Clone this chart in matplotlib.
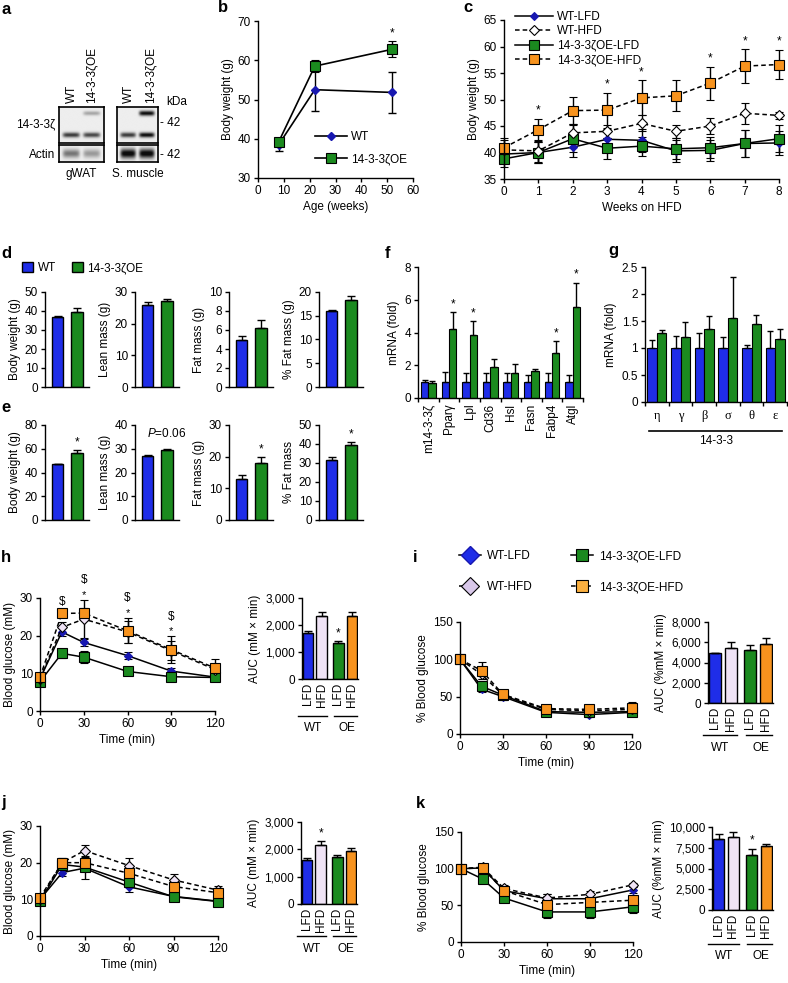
import numpy as np
import matplotlib
matplotlib.use('Agg')
import matplotlib.pyplot as plt
from matplotlib.patches import Patch
from matplotlib.lines import Line2D
import matplotlib.transforms as mtransforms

FS = 8.5
plt.rcParams['font.family'] = ['Liberation Sans', 'DejaVu Sans']
plt.rcParams['font.size'] = FS
plt.rcParams['mathtext.fontset'] = 'custom'
plt.rcParams['mathtext.it'] = 'Liberation Sans:italic'
plt.rcParams['mathtext.rm'] = 'Liberation Sans'
plt.rcParams['axes.linewidth'] = 1.0
plt.rcParams['xtick.major.width'] = 1.0
plt.rcParams['ytick.major.width'] = 1.0
plt.rcParams['xtick.major.size'] = 3
plt.rcParams['ytick.major.size'] = 3
plt.rcParams['xtick.major.pad'] = 2
plt.rcParams['ytick.major.pad'] = 2
plt.rcParams['axes.labelpad'] = 3

# ---------------- data ----------------
# panel a (western blot band intensities, lanes WT / 14-3-3zOE)
blot_lanes = ['WT', '14-3-3ζOE']
gwat_zeta_endo = [0.75, 0.7]
gwat_zeta_oe = [0.0, 0.3]
gwat_actin = [0.5, 0.35]
musc_zeta_endo = [0.75, 0.95]
musc_zeta_oe = [0.0, 0.95]
musc_actin = [1.0, 1.0]

# panel b
b_age = [8, 22, 52]
b_wt = [38.5, 52.5, 51.8]
b_wt_err = [1.7, 5.5, 5.3]
b_oe = [39.2, 58.5, 62.8]
b_oe_err = [1.0, 1.5, 2.0]
b_star_idx = [2]

# panel c
c_weeks = [0, 1, 2, 3, 4, 5, 6, 7, 8]
c_wt_lfd = [39.7, 40.0, 41.0, 42.5, 42.3, 40.3, 40.4, 41.7, 41.8]
c_wt_lfd_err = [1.5, 2.0, 1.8, 2.0, 2.2, 2.0, 2.0, 2.5, 2.2]
c_wt_hfd = [40.5, 40.3, 43.7, 44.0, 45.5, 44.0, 45.0, 47.4, 47.0]
c_wt_hfd_err = [1.8, 2.0, 1.6, 1.2, 1.5, 1.2, 1.5, 2.0, 0.7]
c_oe_lfd = [38.8, 40.0, 42.6, 40.8, 41.2, 40.7, 40.9, 41.7, 42.6]
c_oe_lfd_err = [1.5, 2.0, 2.5, 2.0, 1.8, 2.0, 2.0, 2.5, 2.5]
c_oe_hfd = [40.9, 44.3, 47.9, 48.0, 50.3, 50.7, 53.1, 56.3, 56.6]
c_oe_hfd_err = [1.8, 2.1, 2.6, 3.3, 3.3, 2.9, 3.1, 3.2, 2.8]
c_star_weeks = [1, 3, 4, 6, 7, 8]

# panel d / e (WT, 14-3-3zOE)
de_labels = ['Body weight (g)', 'Lean mass (g)', 'Fat mass (g)', '% Fat mass (g)']
e_labels = ['Body weight (g)', 'Lean mass (g)', 'Fat mass (g)', '% Fat mass']
d_vals = [[36.8, 39.7], [26.0, 27.0], [4.9, 6.2], [15.9, 18.4]]
d_errs = [[0.7, 1.8], [0.8, 0.8], [0.5, 0.8], [0.4, 0.8]]
d_ymax = [50, 30, 10, 20]
d_ystep = [10, 10, 2, 5]
e_vals = [[47.0, 56.5], [27.0, 29.3], [12.8, 18.0], [31.5, 39.3]]
e_errs = [[0.5, 2.5], [0.3, 0.8], [1.5, 1.8], [1.8, 1.8]]
e_ymax = [80, 40, 30, 50]
e_ystep = [20, 10, 10, 10]
e_star = [True, False, True, True]

# panel f
f_genes = ['m14-3-3ζ', 'Pparγ', 'Lpl', 'Cd36', 'Hsl', 'Fasn', 'Fabp4', 'Atgl']
f_wt = [1, 1, 1, 1, 1, 1, 1, 1]
f_wt_err = [0.1, 0.6, 0.55, 0.55, 0.55, 0.4, 0.55, 0.4]
f_oe = [0.9, 4.2, 3.85, 1.9, 1.55, 1.65, 2.75, 5.55]
f_oe_err = [0.15, 1.05, 0.85, 0.5, 0.5, 0.1, 0.75, 1.5]
f_star = [False, True, True, False, False, False, True, True]

# panel g
g_iso = ['η', 'γ', 'β', 'σ', 'θ', 'ε']
g_wt = [1, 1, 1, 1, 1, 1]
g_wt_err = [0.15, 0.23, 0.27, 0.2, 0.05, 0.32]
g_oe = [1.27, 1.21, 1.35, 1.56, 1.45, 1.17]
g_oe_err = [0.07, 0.28, 0.25, 0.75, 0.17, 0.18]

# panels h-k (time courses)
t_min = [0, 15, 30, 60, 90, 120]
h_wt_lfd = [8.5, 21.0, 18.2, 14.7, 10.6, 9.0]
h_wt_lfd_err = [0.8, 1.2, 1.0, 1.0, 0.7, 0.5]
h_wt_hfd = [8.6, 22.2, 24.4, 21.0, 16.0, 11.0]
h_wt_hfd_err = [0.8, 1.5, 5.0, 3.0, 2.5, 1.5]
h_oe_lfd = [7.8, 15.3, 14.3, 10.5, 9.1, 8.9]
h_oe_lfd_err = [0.8, 1.2, 1.5, 0.7, 0.5, 0.6]
h_oe_hfd = [9.0, 25.9, 26.0, 21.3, 16.3, 11.4]
h_oe_hfd_err = [0.8, 1.0, 1.3, 3.3, 3.5, 2.3]
h_star_t = [30, 60, 90]
h_dollar_t = [15, 30, 60, 90]

i_wt_lfd = [100, 60, 50, 29, 26, 29]
i_wt_lfd_err = [0, 4, 4, 3, 3, 3]
i_wt_hfd = [100, 80, 52, 33, 31, 33]
i_wt_hfd_err = [0, 6, 5, 3, 3, 4]
i_oe_lfd = [100, 64, 52, 30, 29, 30]
i_oe_lfd_err = [0, 5, 5, 3, 3, 3]
i_oe_hfd = [100, 85, 53, 34, 33, 35]
i_oe_hfd_err = [0, 12, 6, 5, 5, 8]

j_wt_lfd = [10.0, 17.3, 18.5, 13.4, 10.8, 9.5]
j_wt_lfd_err = [0.8, 1.0, 3.0, 1.5, 0.8, 0.6]
j_wt_hfd = [10.0, 20.0, 23.3, 19.2, 15.3, 12.5]
j_wt_hfd_err = [0.8, 1.3, 1.5, 2.0, 1.7, 1.2]
j_oe_lfd = [9.5, 19.5, 18.8, 14.7, 10.7, 9.4]
j_oe_lfd_err = [0.8, 1.0, 1.2, 1.3, 0.8, 0.6]
j_oe_hfd = [10.5, 20.0, 20.0, 17.1, 13.5, 11.8]
j_oe_hfd_err = [0.8, 1.3, 1.3, 1.5, 1.3, 1.2]

k_wt_lfd = [100, 101, 70, 59, 59, 71]
k_wt_lfd_err = [0, 3, 5, 6, 5, 4]
k_wt_hfd = [100, 102, 73, 60, 65, 78]
k_wt_hfd_err = [0, 3, 5, 6, 4, 3]
k_oe_lfd = [100, 86, 60, 41, 41, 48]
k_oe_lfd_err = [0, 5, 6, 8, 8, 9]
k_oe_hfd = [100, 101, 70, 51, 54, 57]
k_oe_hfd_err = [0, 4, 6, 6, 6, 5]

auc_groups = ['LFD', 'HFD', 'LFD', 'HFD']
h_auc = [1700, 2330, 1320, 2340]
h_auc_err = [60, 150, 80, 150]
h_auc_star = [2]
i_auc = [4900, 5450, 5200, 5800]
i_auc_err = [80, 600, 550, 600]
i_auc_star = []
j_auc = [1600, 2170, 1720, 1950]
j_auc_err = [100, 130, 90, 100]
j_auc_star = [1]
k_auc = [8600, 8800, 6600, 7700]
k_auc_err = [500, 600, 800, 250]
k_auc_star = [2]

# ---------------- style ----------------
BLUE = '#1f2de8'
DBLUE = '#1818b0'
GREEN = '#1b8a1f'
ORANGE = '#f7931e'
LAV = '#efe3f5'

W, H = 788, 983
fig = plt.figure(figsize=(W / 100, H / 100), dpi=100)


def pax(x0, y0, x1, y1):
    return fig.add_axes([x0 / W, 1 - y1 / H, (x1 - x0) / W, (y1 - y0) / H])


def style(ax):
    for s in ['top', 'right']:
        ax.spines[s].set_visible(False)
    ax.tick_params(direction='out', length=3, width=1, labelsize=FS)


def ftext(x, y, s, **kw):
    fig.text(x / W, 1 - y / H, s, **kw)


def letter(x, y, s):
    ftext(x, y, s, fontsize=12, fontweight='bold', ha='left', va='center')


# ---------------- panel a ----------------
letter(1, 9, 'a')


def blot(x0, y0, x1, y1, bands):
    ax = pax(x0, y0, x1, y1)
    ny, nx = 80, 100
    yy = np.linspace(0, 1, ny)[:, None]
    xx = np.linspace(0, 1, nx)[None, :]
    img = np.full((ny, nx), 0.07)
    for lane_c, yc, inten, thick in bands:
        img += inten * np.exp(-((xx - lane_c) / 0.19) ** 6) * np.exp(-((yy - yc) / thick) ** 2)
    ax.imshow(np.clip(img, 0, 1), cmap='gray_r', vmin=0, vmax=1.05, extent=[0, 1, 0, 1],
              aspect='auto', origin='lower', interpolation='bilinear')
    ax.set_xticks([])
    ax.set_yticks([])
    for s in ax.spines.values():
        s.set_linewidth(1.2)
    return ax


lane_pos = [0.27, 0.73]
blot(59, 107, 104, 143,
     [(lane_pos[i], 0.22, gwat_zeta_endo[i], 0.07) for i in range(2)] +
     [(lane_pos[i], 0.83, gwat_zeta_oe[i], 0.06) for i in range(2)])
blot(59, 145, 104, 162, [(lane_pos[i], 0.5, gwat_actin[i], 0.25) for i in range(2)])
blot(117, 107, 158, 143,
     [(lane_pos[i], 0.22, musc_zeta_endo[i], 0.07) for i in range(2)] +
     [(lane_pos[i], 0.83, musc_zeta_oe[i], 0.07) for i in range(2)])
blot(117, 145, 158, 162, [(lane_pos[i], 0.5, musc_actin[i], 0.28) for i in range(2)])

for xc in [72, 129]:
    ftext(xc, 103, blot_lanes[0], rotation=90, ha='center', va='bottom')
for xc in [91, 150]:
    ftext(xc, 103, blot_lanes[1], rotation=90, ha='center', va='bottom')
ftext(55, 124, '14-3-3ζ', ha='right', va='center')
ftext(55, 155, 'Actin', ha='right', va='center')
ftext(166, 102, 'kDa', ha='left', va='center')
ftext(160, 123, '- 42', ha='left', va='center')
ftext(160, 155, '- 42', ha='left', va='center')
ftext(81, 174, 'gWAT', ha='center', va='center')
ftext(138, 174, 'S. muscle', ha='center', va='center')

# ---------------- panel b ----------------
letter(218, 8, 'b')
ax = pax(258, 21, 413, 178)
style(ax)
ax.errorbar(b_age, b_wt, yerr=b_wt_err, color='black', lw=1.2, marker='D', ms=4.5,
            mfc=DBLUE, mec=DBLUE, capsize=3, elinewidth=1, capthick=1, label='WT', zorder=3)
ax.errorbar(b_age, b_oe, yerr=b_oe_err, color='black', lw=1.2, marker='s', ms=7,
            mfc=GREEN, mec='black', mew=0.8, capsize=3, elinewidth=1, capthick=1,
            label='14-3-3ζOE', zorder=4)
for i in b_star_idx:
    ax.text(b_age[i], b_oe[i] + b_oe_err[i] + 0.5, '*', ha='center', va='bottom', fontsize=FS)
ax.set_xlim(0, 60)
ax.set_ylim(30, 70)
ax.set_xticks(range(0, 61, 10))
ax.set_yticks(range(30, 71, 10))
ax.set_xlabel('Age (weeks)')
ax.set_ylabel('Body weight (g)')
h_, l_ = ax.get_legend_handles_labels()
ax.legend([hh[0] for hh in h_], l_, loc='upper left', bbox_to_anchor=(315 / W, 1 - 131 / H),
          bbox_transform=fig.transFigure, frameon=False, borderpad=0, borderaxespad=0,
          handlelength=2.7, handletextpad=0.35, labelspacing=0.86, fontsize=FS)

# ---------------- panel c ----------------
letter(463, 8, 'c')
ax = pax(504, 20, 779, 179)
style(ax)
c_series = [
    (c_wt_lfd, c_wt_lfd_err, 'WT-LFD', '-', 'D', DBLUE, DBLUE, 4.5),
    (c_oe_lfd, c_oe_lfd_err, '14-3-3ζOE-LFD', '-', 's', GREEN, 'black', 6.5),
    (c_wt_hfd, c_wt_hfd_err, 'WT-HFD', (0, (3, 2)), 'D', 'white', 'black', 5),
    (c_oe_hfd, c_oe_hfd_err, '14-3-3ζOE-HFD', (0, (3, 2)), 's', ORANGE, 'black', 6.5),
]
handles = {}
for yv, ye, lab, ls, mk, fc, ec, ms in c_series:
    cont = ax.errorbar(c_weeks, yv, yerr=ye, color='black', ls=ls, lw=1.1, marker=mk, ms=ms,
                       mfc=fc, mec=ec, mew=0.8, capsize=3, elinewidth=1, capthick=1, clip_on=False)
    handles[lab] = cont[0]
for wk in c_star_weeks:
    ax.text(wk, c_oe_hfd[wk] + c_oe_hfd_err[wk] + 0.4, '*', ha='center', va='bottom', fontsize=FS)
ax.set_xlim(0, 8)
ax.set_ylim(35, 65)
ax.set_xticks(c_weeks)
ax.set_yticks(range(35, 66, 5))
ax.set_xlabel('Weeks on HFD')
ax.set_ylabel('Body weight (g)')
order = ['WT-LFD', 'WT-HFD', '14-3-3ζOE-LFD', '14-3-3ζOE-HFD']
ax.legend([handles[o] for o in order], order, loc='upper left',
          bbox_to_anchor=(515 / W, 1 - 11 / H), bbox_transform=fig.transFigure, frameon=False,
          borderpad=0, borderaxespad=0, handlelength=3.2, handletextpad=0.35, labelspacing=0.2,
          fontsize=FS)

# ---------------- panels d / e ----------------
letter(1, 254, 'd')
fig.legend([Patch(facecolor=BLUE, edgecolor='black'), Patch(facecolor=GREEN, edgecolor='black')],
           ['WT', '14-3-3ζOE'], loc='upper left', bbox_to_anchor=(22 / W, 1 - 262 / H), ncol=2,
           frameon=False, borderpad=0, borderaxespad=0, handlelength=0.95, handleheight=0.95,
           handletextpad=0.4, columnspacing=1.3, fontsize=FS)
letter(1, 407, 'e')

panel_x = [45, 135, 229, 319]


def small_bars(ax, vals, errs, ymax, ystep, ylabel):
    style(ax)
    ax.bar([0, 1], vals, width=0.6, color=[BLUE, GREEN], edgecolor='black', lw=1,
           yerr=[[0, 0], errs], capsize=3, error_kw=dict(lw=1, capthick=1, ecolor='black'))
    ax.set_xlim(-0.65, 1.62)
    ax.set_ylim(0, ymax)
    ax.set_yticks(np.arange(0, ymax + 0.1, ystep))
    ax.set_xticks([])
    ax.set_ylabel(ylabel)


for p in range(4):
    ax = pax(panel_x[p], 292, panel_x[p] + 44, 387)
    small_bars(ax, d_vals[p], d_errs[p], d_ymax[p], d_ystep[p], de_labels[p])
    ax = pax(panel_x[p], 425, panel_x[p] + 44, 520)
    small_bars(ax, e_vals[p], e_errs[p], e_ymax[p], e_ystep[p], e_labels[p])
    if e_star[p]:
        ax.text(1, e_vals[p][1] + e_errs[p][1] + e_ymax[p] * 0.02, '*', ha='center', va='bottom',
                fontsize=FS)
    if p == 1:
        ax.text(1.0, 36.3, '$P$=0.06', ha='center', va='center', fontsize=FS)

# ---------------- panel f ----------------
letter(385, 253, 'f')
ax = pax(418, 267, 583, 398)
style(ax)
xf = np.arange(len(f_genes))
ax.bar(xf - 0.18, f_wt, width=0.36, color=BLUE, edgecolor='black', lw=0.8,
       yerr=[np.zeros(len(xf)), f_wt_err], capsize=2.5, error_kw=dict(lw=1, capthick=1))
ax.bar(xf + 0.18, f_oe, width=0.36, color=GREEN, edgecolor='black', lw=0.8,
       yerr=[np.zeros(len(xf)), f_oe_err], capsize=2.5, error_kw=dict(lw=1, capthick=1))
for i, s in enumerate(f_star):
    if s:
        ax.text(xf[i] + 0.18, f_oe[i] + f_oe_err[i] + 0.1, '*', ha='center', va='bottom', fontsize=FS)
ax.set_xlim(-0.5, len(f_genes) - 0.5)
ax.set_ylim(0, 8)
ax.set_yticks([0, 2, 4, 6, 8])
bounds_f = np.arange(-0.5, len(f_genes))
ax.set_xticks(bounds_f, [''] * len(bounds_f))
ax.set_xticks(xf, f_genes, minor=True, rotation=90)
ax.tick_params(axis='x', which='minor', length=0, pad=4, labelsize=FS)
ax.set_ylabel('mRNA (fold)')

# ---------------- panel g ----------------
letter(608, 251, 'g')
ax = pax(645, 267, 787, 402)
style(ax)
xg = np.arange(len(g_iso))
ax.bar(xg - 0.2, g_wt, width=0.4, color=BLUE, edgecolor='black', lw=0.8,
       yerr=[np.zeros(len(xg)), g_wt_err], capsize=2.5, error_kw=dict(lw=1, capthick=1))
ax.bar(xg + 0.2, g_oe, width=0.4, color=GREEN, edgecolor='black', lw=0.8,
       yerr=[np.zeros(len(xg)), g_oe_err], capsize=2.5, error_kw=dict(lw=1, capthick=1))
ax.set_xlim(-0.5, len(g_iso) - 0.5)
ax.set_ylim(0, 2.5)
ax.set_yticks([0, 0.5, 1, 1.5, 2, 2.5], ['0', '0.5', '1', '1.5', '2', '2.5'])
bounds_g = np.arange(-0.5, len(g_iso))
ax.set_xticks(bounds_g, [''] * len(bounds_g))
ax.set_xticks(xg, g_iso, minor=True)
ax.tick_params(axis='x', which='minor', length=0, pad=6, labelsize=FS + 0.5)
for lbl in ax.get_xticklabels(minor=True):
    lbl.set_fontfamily('Liberation Serif')
ax.set_ylabel('mRNA (fold)')
tr = mtransforms.blended_transform_factory(ax.transData, fig.transFigure)
ax.plot([-0.35, 5.3], [1 - 431 / H] * 2, color='black', lw=1.2, transform=tr, clip_on=False)
ax.text(2.5, 1 - 441 / H, '14-3-3', transform=tr, ha='center', va='center', fontsize=FS)

# ---------------- panels h-k ----------------
DASH = (0, (3, 2))


def time_course(ax, series, ylim, yticks, ylabel, msq=7, mdi=5):
    style(ax)
    specs = [
        ('-', 'D', DBLUE, DBLUE, mdi - 0.5),
        ('-', 's', GREEN, 'black', msq),
        (DASH, 'D', LAV, 'black', mdi),
        (DASH, 's', ORANGE, 'black', msq),
    ]
    for (yv, ye), (ls, mk, fc, ec, ms) in zip(series, specs):
        ax.errorbar(t_min, yv, yerr=ye, color='black', ls=ls, lw=1.1, marker=mk, ms=ms, mfc=fc,
                    mec=ec, mew=0.8, capsize=3, elinewidth=1, capthick=1, clip_on=False)
    ax.set_xlim(0, 120)
    ax.set_ylim(*ylim)
    ax.set_xticks([0, 30, 60, 90, 120])
    ax.set_yticks(yticks)
    ax.set_xlabel('Time (min)')
    ax.set_ylabel(ylabel)


def auc_bars(ax, vals, errs, stars, ymax, yticks, ytl, ylabel, wt_line, oe_line, lab_y):
    style(ax)
    xp = [0, 1, 2.25, 3.25]
    ax.bar(xp, vals, width=0.78, color=[BLUE, LAV, GREEN, ORANGE], edgecolor='black', lw=1,
           yerr=[[0] * 4, errs], capsize=3, error_kw=dict(lw=1, capthick=1))
    for i in stars:
        ax.text(xp[i], vals[i] + errs[i] + ymax * 0.02, '*', ha='center', va='bottom', fontsize=FS)
    ax.set_xlim(-0.45, 3.7)
    ax.set_ylim(0, ymax)
    ax.set_yticks(yticks, ytl)
    ax.set_xticks(xp, auc_groups, rotation=90)
    ax.tick_params(axis='x', length=0, pad=3)
    ax.set_ylabel(ylabel)
    tr = mtransforms.blended_transform_factory(ax.transData, fig.transFigure)
    ax.plot([-0.75, 1.4], [1 - wt_line / H] * 2, color='black', lw=1, transform=tr, clip_on=False)
    ax.plot([1.95, 3.65], [1 - oe_line / H] * 2, color='black', lw=1, transform=tr, clip_on=False)
    ax.text(0.35, 1 - lab_y / H, 'WT', transform=tr, ha='center', va='center', fontsize=FS)
    ax.text(2.9, 1 - lab_y / H, 'OE', transform=tr, ha='center', va='center', fontsize=FS)


# h
letter(1, 558, 'h')
ax = pax(40, 598, 215, 711)
time_course(ax, [(h_wt_lfd, h_wt_lfd_err), (h_oe_lfd, h_oe_lfd_err),
                 (h_wt_hfd, h_wt_hfd_err), (h_oe_hfd, h_oe_hfd_err)],
            (0, 30), [0, 10, 20, 30], 'Blood glucose (mM)')
for t in h_dollar_t:
    i = t_min.index(t)
    top = max(h_oe_hfd[i] + h_oe_hfd_err[i], h_wt_hfd[i] + h_wt_hfd_err[i])
    star = t in h_star_t
    if star:
        ax.annotate('*', (t, top), xytext=(0, 0), textcoords='offset points', ha='center',
                    va='bottom', fontsize=8, annotation_clip=False)
    ax.annotate('$', (t, top), xytext=(0, 10 if star else 1), textcoords='offset points',
                ha='center', va='bottom', fontsize=FS, annotation_clip=False)
ax = pax(302, 598, 358, 679)
auc_bars(ax, h_auc, h_auc_err, h_auc_star, 3000, [0, 1000, 2000, 3000],
         ['0', '1,000', '2,000', '3,000'], 'AUC (mM × min)', 716, 716, 728)

# i
letter(413, 557, 'i')
leg_h = [Line2D([], [], color='black', ls='-', marker='D', ms=9, mfc=BLUE, mec=DBLUE, lw=1.1),
         Line2D([], [], color='black', ls=DASH, marker='D', ms=9, mfc='#d9c8ea', mec='black', mew=0.8, lw=1.1),
         Line2D([], [], color='black', ls='-', marker='s', ms=8.5, mfc=GREEN, mec='black', mew=0.8, lw=1.1),
         Line2D([], [], color='black', ls=DASH, marker='s', ms=8.5, mfc='#fbb040', mec='black', mew=0.8, lw=1.1)]
fig.legend(leg_h, ['WT-LFD', 'WT-HFD', '14-3-3ζOE-LFD', '14-3-3ζOE-HFD'], ncol=2,
           loc='upper left', bbox_to_anchor=(459 / W, 1 - 550 / H), frameon=False, borderpad=0,
           borderaxespad=0, handlelength=1.85, handletextpad=0.5, labelspacing=1.6,
           columnspacing=3.3, fontsize=FS)
ax = pax(460, 622, 632, 734)
time_course(ax, [(i_wt_lfd, i_wt_lfd_err), (i_oe_lfd, i_oe_lfd_err),
                 (i_wt_hfd, i_wt_hfd_err), (i_oe_hfd, i_oe_hfd_err)],
            (0, 150), [0, 50, 100, 150], '% Blood glucose', msq=7.5)
ax = pax(708, 622, 773, 703)
auc_bars(ax, i_auc, i_auc_err, i_auc_star, 8000, [0, 2000, 4000, 6000, 8000],
         ['0', '2,000', '4,000', '6,000', '8,000'], 'AUC (%mM × min)', 735, 735, 748)

# j
letter(1, 803, 'j')
ax = pax(40, 826, 218, 936)
time_course(ax, [(j_wt_lfd, j_wt_lfd_err), (j_oe_lfd, j_oe_lfd_err),
                 (j_wt_hfd, j_wt_hfd_err), (j_oe_hfd, j_oe_hfd_err)],
            (0, 30), [0, 10, 20, 30], 'Blood glucose (mM)')
ax = pax(301, 822, 357, 904)
auc_bars(ax, j_auc, j_auc_err, j_auc_star, 3000, [0, 1000, 2000, 3000],
         ['0', '1,000', '2,000', '3,000'], 'AUC (mM × min)', 936, 936, 949)

# k
letter(416, 803, 'k')
ax = pax(461, 832, 633, 942)
time_course(ax, [(k_wt_lfd, k_wt_lfd_err), (k_oe_lfd, k_oe_lfd_err),
                 (k_wt_hfd, k_wt_hfd_err), (k_oe_hfd, k_oe_hfd_err)],
            (0, 150), [0, 50, 100, 150], '% Blood glucose')
ax = pax(712, 827, 773, 910)
auc_bars(ax, k_auc, k_auc_err, k_auc_star, 10000, [0, 2500, 5000, 7500, 10000],
         ['0', '2,500', '5,000', '7,500', '10,000'], 'AUC (%mM × min)', 944, 944, 956)

fig.savefig('out.png', dpi=100)
